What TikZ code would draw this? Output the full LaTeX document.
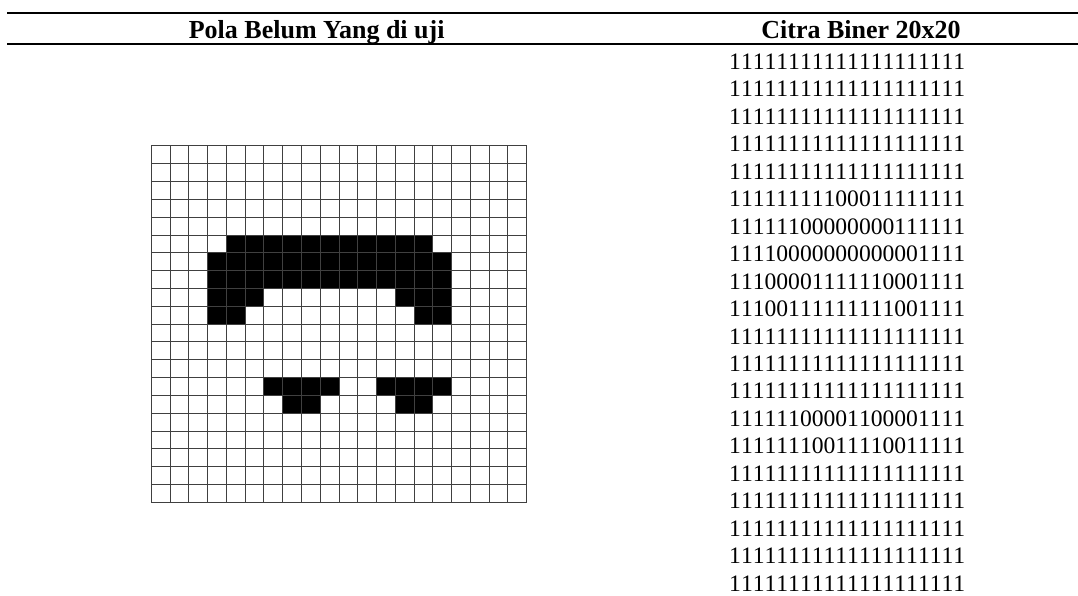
\documentclass[tikz,border=0pt]{standalone}
\usepackage{fontspec}
\setmainfont{Liberation Serif}
\newfontfamily\digitfont[Kerning=Off]{Liberation Serif}
\begin{document}
\begin{tikzpicture}[x=1pt,y=-1pt,
  rulestyle/.style={line width=1.7pt,black},
  gridline/.style={line width=1pt,black!75},
  head/.style={font=\fontsize{26}{30}\selectfont\bfseries,inner sep=0pt,anchor=base},
  digit/.style={font=\digitfont\fontsize{23.6}{27}\selectfont,inner sep=0pt,anchor=base}]
\useasboundingbox (0,0) rectangle (1078,596);
\def\gx{151.3}\def\gy{146}\def\cw{18.77}\def\ch{17.815}
\newcommand\blk[3]{\fill[black] ({\gx+#2*\cw},{\gy+#1*\ch}) rectangle ({\gx+(#3+1)*\cw},{\gy+(#1+1)*\ch});}
% rules
\coordinate (t1) at (7,12.7); \coordinate (t2) at (1078,12.7);
\coordinate (m1) at (7,44); \coordinate (m2) at (1078,44);
\draw[rulestyle] (t1) -- (t2);
\draw[rulestyle] (m1) -- (m2);
% headers
\node[head] (h1) at (316.7,39) {Pola Belum Yang di uji};
\node[head] (h2) at (861,39) {Citra Biner 20x20};
% black cells
\blk{5}{4}{14}
\blk{6}{3}{15}
\blk{7}{3}{15}
\blk{8}{3}{5}\blk{8}{13}{15}
\blk{9}{3}{4}\blk{9}{14}{15}
\blk{13}{6}{9}\blk{13}{12}{15}
\blk{14}{7}{8}\blk{14}{13}{14}
% grid
\foreach \k in {0,...,20}{
  \draw[gridline] ({\gx+\k*\cw},\gy) -- ({\gx+\k*\cw},{\gy+20*\ch});
  \draw[gridline] (\gx,{\gy+\k*\ch}) -- ({\gx+20*\cw},{\gy+\k*\ch});
}
% binary rows
\foreach \s [count=\i from 0] in {
11111111111111111111,
11111111111111111111,
11111111111111111111,
11111111111111111111,
11111111111111111111,
11111111100011111111,
11111100000000111111,
11110000000000001111,
11100001111110001111,
11100111111111001111,
11111111111111111111,
11111111111111111111,
11111111111111111111,
11111100001100001111,
11111110011110011111,
11111111111111111111,
11111111111111111111,
11111111111111111111,
11111111111111111111,
11111111111111111111}{
  \node[digit] (r\i) at (847.2,{69.5+\i*27.45}) {\s};
}
\end{tikzpicture}
\end{document}
